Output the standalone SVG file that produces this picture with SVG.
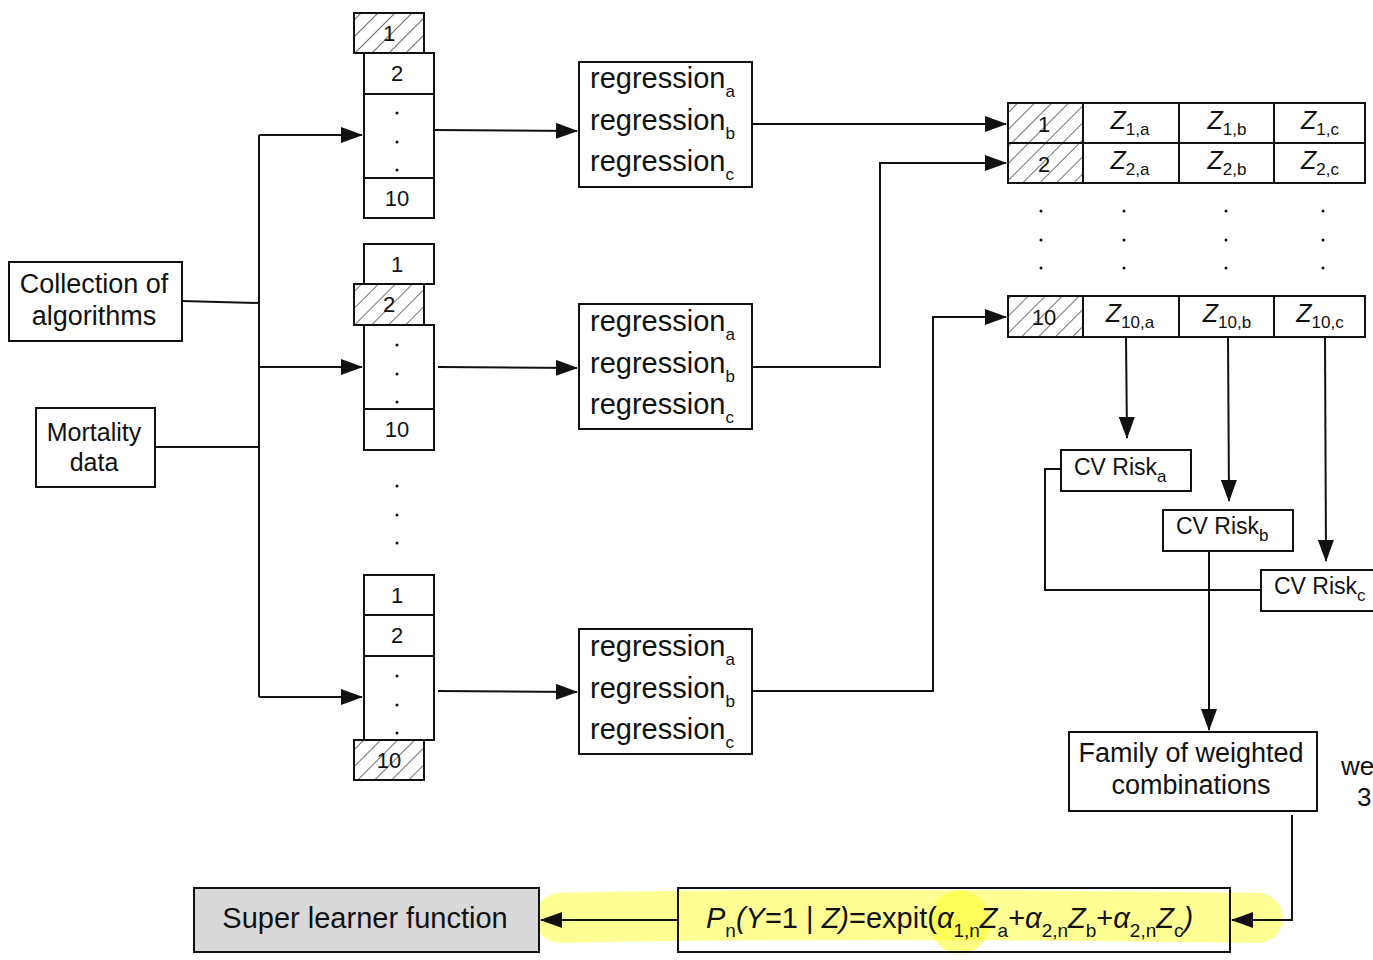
<svg xmlns="http://www.w3.org/2000/svg" width="1373" height="960" viewBox="0 0 1373 960">
<style>
text{font-family:"Liberation Sans",Arial,sans-serif;fill:#111}
.box{fill:#fff;stroke:#111;stroke-width:2}
.hat{fill:url(#hatch);stroke:#111;stroke-width:2}
.ln{fill:none;stroke:#111;stroke-width:2}
.arr{fill:none;stroke:#111;stroke-width:2;marker-end:url(#ah)}
.num{font-size:22px;text-anchor:middle}
.reg{font-size:29px}
.lbl{font-size:26px;text-anchor:middle}
.z{font-size:25px;text-anchor:middle;font-style:italic}
.sub{font-size:17px;font-style:normal}
.dot{fill:#111}
</style>
<defs>
<pattern id="hatch" patternUnits="userSpaceOnUse" width="12" height="12" patternTransform="rotate(45)">
<rect width="12" height="12" fill="#fff"/>
<line x1="0" y1="0" x2="0" y2="12" stroke="#222" stroke-width="1.3"/>
</pattern>
<marker id="ah" markerWidth="22" markerHeight="16" refX="21" refY="8" orient="auto" markerUnits="userSpaceOnUse">
<path d="M0,0 L22,8 L0,16 z" fill="#111"/>
</marker>
</defs>

<g id="highlight">
<path d="M560,918 C700,914 1000,914 1258,918" fill="none" stroke="#ffff70" stroke-opacity="0.75" stroke-width="50" stroke-linecap="round"/>
<ellipse cx="960" cy="922" rx="30" ry="32" fill="#ffff33" fill-opacity="0.6"/>
</g>

<g id="connectors">
<path class="ln" d="M182,301 L259,303"/>
<path class="ln" d="M155,447 L259,447"/>
<path class="ln" d="M259,135 L259,697"/>
<path class="arr" d="M259,135 L362,135"/>
<path class="arr" d="M259,367 L362,367"/>
<path class="arr" d="M259,697 L362,697"/>
<path class="arr" d="M434,130 L577,131"/>
<path class="arr" d="M438,367 L577,368"/>
<path class="arr" d="M438,691 L577,692"/>
<path class="arr" d="M752,124 L1006,124"/>
<path class="arr" d="M752,367 L880,367 L880,163 L1006,163"/>
<path class="arr" d="M752,691 L933,691 L933,317 L1006,317"/>
<path class="arr" d="M1126,337 L1127,438"/>
<path class="arr" d="M1228,337 L1229,501"/>
<path class="arr" d="M1325,337 L1326,561"/>
<path class="ln" d="M1061,469 L1045,469 L1045,590 L1261,590"/>
<path class="arr" d="M1209,551 L1209,730"/>
<path class="arr" d="M1292,815 L1292,920 L1232,920"/>
<path class="arr" d="M678,920 L541,920"/>
</g>

<g id="collection">
<rect class="box" x="9" y="262" width="173" height="79"/>
<text class="lbl" x="94" y="293" style="font-size:27px">Collection of</text>
<text class="lbl" x="94" y="325" style="font-size:27px">algorithms</text>
</g>
<g id="mortality">
<rect class="box" x="36" y="408" width="119" height="79"/>
<text class="lbl" x="94" y="441" style="font-size:25px">Mortality</text>
<text class="lbl" x="94" y="471" style="font-size:25px">data</text>
</g>

<g id="fold1">
<rect class="hat" x="354" y="13" width="70" height="40"/>
<text class="num" x="389" y="41">1</text>
<rect class="box" x="364" y="53" width="70" height="41"/>
<text class="num" x="397" y="81">2</text>
<rect class="box" x="364" y="94" width="70" height="84"/>
<circle class="dot" cx="397" cy="113" r="1.5"/><circle class="dot" cx="397" cy="142" r="1.5"/><circle class="dot" cx="397" cy="170" r="1.5"/>
<rect class="box" x="364" y="178" width="70" height="40"/>
<text class="num" x="397" y="206">10</text>
</g>

<g id="fold2">
<rect class="box" x="364" y="244" width="70" height="40"/>
<text class="num" x="397" y="272">1</text>
<rect class="hat" x="354" y="284" width="70" height="41"/>
<text class="num" x="389" y="312">2</text>
<rect class="box" x="364" y="325" width="70" height="84"/>
<circle class="dot" cx="397" cy="345" r="1.5"/><circle class="dot" cx="397" cy="374" r="1.5"/><circle class="dot" cx="397" cy="402" r="1.5"/>
<rect class="box" x="364" y="409" width="70" height="41"/>
<text class="num" x="397" y="437">10</text>
<circle class="dot" cx="397" cy="486" r="1.5"/><circle class="dot" cx="397" cy="515" r="1.5"/><circle class="dot" cx="397" cy="543" r="1.5"/>
</g>

<g id="fold3">
<rect class="box" x="364" y="575" width="70" height="40"/>
<text class="num" x="397" y="603">1</text>
<rect class="box" x="364" y="615" width="70" height="41"/>
<text class="num" x="397" y="643">2</text>
<rect class="box" x="364" y="656" width="70" height="84"/>
<circle class="dot" cx="397" cy="676" r="1.5"/><circle class="dot" cx="397" cy="705" r="1.5"/><circle class="dot" cx="397" cy="733" r="1.5"/>
<rect class="hat" x="354" y="740" width="70" height="40"/>
<text class="num" x="389" y="768">10</text>
</g>

<g id="reg1">
<rect class="box" x="579" y="62" width="173" height="125"/>
<text class="reg" x="590" y="88">regression<tspan class="sub" dy="9">a</tspan></text>
<text class="reg" x="590" y="130">regression<tspan class="sub" dy="9">b</tspan></text>
<text class="reg" x="590" y="171">regression<tspan class="sub" dy="9">c</tspan></text>
</g>
<g id="reg2">
<rect class="box" x="579" y="304" width="173" height="125"/>
<text class="reg" x="590" y="331">regression<tspan class="sub" dy="9">a</tspan></text>
<text class="reg" x="590" y="373">regression<tspan class="sub" dy="9">b</tspan></text>
<text class="reg" x="590" y="414">regression<tspan class="sub" dy="9">c</tspan></text>
</g>
<g id="reg3">
<rect class="box" x="579" y="629" width="173" height="125"/>
<text class="reg" x="590" y="656">regression<tspan class="sub" dy="9">a</tspan></text>
<text class="reg" x="590" y="698">regression<tspan class="sub" dy="9">b</tspan></text>
<text class="reg" x="590" y="739">regression<tspan class="sub" dy="9">c</tspan></text>
</g>

<g id="table">
<rect class="hat" x="1008" y="103" width="75" height="40"/>
<text class="num" x="1044" y="132">1</text>
<rect class="box" x="1083" y="103" width="96" height="40"/>
<rect class="box" x="1179" y="103" width="95" height="40"/>
<rect class="box" x="1274" y="103" width="91" height="40"/>
<text class="z" x="1130" y="129">Z<tspan class="sub" dy="6">1,a</tspan></text>
<text class="z" x="1227" y="129">Z<tspan class="sub" dy="6">1,b</tspan></text>
<text class="z" x="1320" y="129">Z<tspan class="sub" dy="6">1,c</tspan></text>
<rect class="hat" x="1008" y="143" width="75" height="40"/>
<text class="num" x="1044" y="172">2</text>
<rect class="box" x="1083" y="143" width="96" height="40"/>
<rect class="box" x="1179" y="143" width="95" height="40"/>
<rect class="box" x="1274" y="143" width="91" height="40"/>
<text class="z" x="1130" y="169">Z<tspan class="sub" dy="6">2,a</tspan></text>
<text class="z" x="1227" y="169">Z<tspan class="sub" dy="6">2,b</tspan></text>
<text class="z" x="1320" y="169">Z<tspan class="sub" dy="6">2,c</tspan></text>
<circle class="dot" cx="1041" cy="211" r="1.5"/><circle class="dot" cx="1041" cy="240" r="1.5"/><circle class="dot" cx="1041" cy="268" r="1.5"/>
<circle class="dot" cx="1124" cy="211" r="1.5"/><circle class="dot" cx="1124" cy="240" r="1.5"/><circle class="dot" cx="1124" cy="268" r="1.5"/>
<circle class="dot" cx="1226" cy="211" r="1.5"/><circle class="dot" cx="1226" cy="240" r="1.5"/><circle class="dot" cx="1226" cy="268" r="1.5"/>
<circle class="dot" cx="1323" cy="211" r="1.5"/><circle class="dot" cx="1323" cy="240" r="1.5"/><circle class="dot" cx="1323" cy="268" r="1.5"/>
<rect class="hat" x="1008" y="296" width="75" height="41"/>
<text class="num" x="1044" y="325">10</text>
<rect class="box" x="1083" y="296" width="96" height="41"/>
<rect class="box" x="1179" y="296" width="95" height="41"/>
<rect class="box" x="1274" y="296" width="91" height="41"/>
<text class="z" x="1130" y="322">Z<tspan class="sub" dy="6">10,a</tspan></text>
<text class="z" x="1227" y="322">Z<tspan class="sub" dy="6">10,b</tspan></text>
<text class="z" x="1320" y="322">Z<tspan class="sub" dy="6">10,c</tspan></text>
</g>

<g id="cvriska">
<rect class="box" x="1061" y="450" width="130" height="41"/>
<text x="1074" y="475" style="font-size:23px">CV Risk<tspan class="sub" dy="7">a</tspan></text>
</g>
<g id="cvriskb">
<rect class="box" x="1163" y="510" width="130" height="41"/>
<text x="1176" y="534" style="font-size:23px">CV Risk<tspan class="sub" dy="7">b</tspan></text>
</g>
<g id="cvriskc">
<rect class="box" x="1261" y="570" width="130" height="41"/>
<text x="1274" y="594" style="font-size:23px">CV Risk<tspan class="sub" dy="7">c</tspan></text>
</g>

<g id="family">
<rect class="box" x="1069" y="732" width="248" height="79"/>
<text class="lbl" x="1191" y="762" style="font-size:27px">Family of weighted</text>
<text class="lbl" x="1191" y="794" style="font-size:27px">combinations</text>
</g>
<g id="sidetext">
<text x="1341" y="775" style="font-size:26px">we</text>
<text x="1357" y="806" style="font-size:26px">3</text>
</g>

<g id="formula">
<rect x="678" y="888" width="552" height="64" fill="none" stroke="#111" stroke-width="2"/>
<text x="706" y="928" style="font-size:29px"><tspan font-style="italic">P</tspan><tspan class="sub" style="font-size:19px" dy="9">n</tspan><tspan dy="-9" font-style="italic">(Y</tspan>=1 | <tspan font-style="italic">Z)</tspan>=expit(<tspan font-style="italic">α</tspan><tspan class="sub" style="font-size:19px" dy="9">1,n</tspan><tspan dy="-9" font-style="italic">Z</tspan><tspan class="sub" style="font-size:19px" dy="9">a</tspan><tspan dy="-9">+</tspan><tspan font-style="italic">α</tspan><tspan class="sub" style="font-size:19px" dy="9">2,n</tspan><tspan dy="-9" font-style="italic">Z</tspan><tspan class="sub" style="font-size:19px" dy="9">b</tspan><tspan dy="-9">+</tspan><tspan font-style="italic">α</tspan><tspan class="sub" style="font-size:19px" dy="9">2,n</tspan><tspan dy="-9" font-style="italic">Z</tspan><tspan class="sub" style="font-size:19px" dy="9">c</tspan><tspan dy="-9" font-style="italic">)</tspan></text>
</g>

<g id="superlearner">
<rect x="194" y="888" width="345" height="64" fill="#d9d9d9" stroke="#111" stroke-width="2"/>
<text class="lbl" x="365" y="928" style="font-size:29px">Super learner function</text>
</g>
</svg>
